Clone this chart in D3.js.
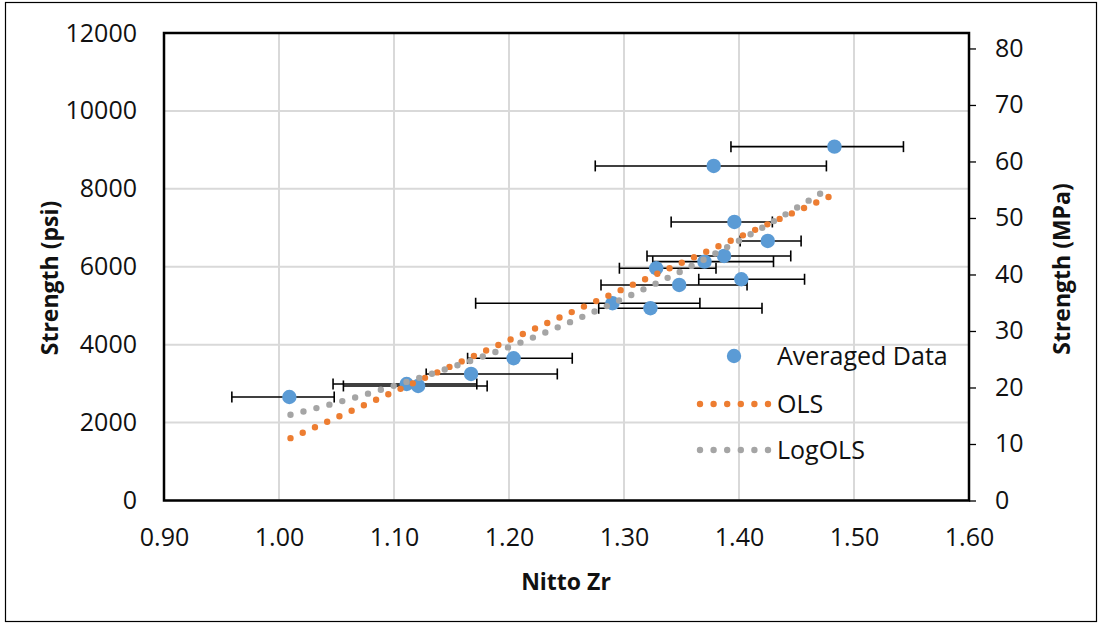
<!DOCTYPE html>
<html>
<head>
<meta charset="utf-8">
<script src="https://cdn.jsdelivr.net/npm/d3@7"></script>
<style>
  html, body { margin: 0; padding: 0; background: #fff; }
  svg { display: block; }
  text { font-family: "Open Sans", "Liberation Sans", sans-serif; fill: #111; }
</style>
</head>
<body>
<svg id="chart" width="1102" height="625"></svg>
<script>
// Averaged strength measurements with horizontal (Nitto Zr) error bars
const xAvg   = [1.009, 1.111, 1.121, 1.167, 1.204, 1.290, 1.323, 1.348, 1.402, 1.328, 1.370, 1.387, 1.425, 1.396, 1.378, 1.483];
const psiAvg = [2657, 2991, 2940, 3248, 3651, 5063, 4934, 5533, 5679, 5962, 6131, 6277, 6662, 7150, 8588, 9083];
const xLow   = [0.959, 1.047, 1.056, 1.128, 1.164, 1.171, 1.278, 1.280, 1.365, 1.296, 1.325, 1.320, 1.401, 1.341, 1.275, 1.393];
const xHigh  = [1.048, 1.172, 1.181, 1.242, 1.255, 1.366, 1.420, 1.407, 1.457, 1.380, 1.430, 1.445, 1.454, 1.429, 1.476, 1.543];

// Fitted trend lines
const olsX = [1.01, 1.48];
const olsPsi = [1600, 7820];
const logOlsX = [1.01, 1.05, 1.10, 1.15, 1.20, 1.25, 1.30, 1.35, 1.40, 1.45, 1.48];
const logOlsPsi = [2200, 2510, 2945, 3420, 3940, 4540, 5190, 5890, 6670, 7510, 8045];

// Axis ticks
const xTicks = [0.90, 1.00, 1.10, 1.20, 1.30, 1.40, 1.50, 1.60];
const psiTicks = [0, 2000, 4000, 6000, 8000, 10000, 12000];
const mpaTicks = [0, 10, 20, 30, 40, 50, 60, 70, 80];
const PSI_TO_MPA = 0.00689476;

const legendItems = ["Averaged Data", "OLS", "LogOLS"];

const colors = { avg: "#5b9bd5", ols: "#ed7d31", log: "#a5a5a5", grid: "#d9d9d9" };

const svg = d3.select("#chart");
const plot = { left: 164, right: 969, top: 33, bottom: 500.5 };

const x = d3.scaleLinear().domain([0.9, 1.6]).range([plot.left, plot.right]);
const y = d3.scaleLinear().domain([0, 12000]).range([plot.bottom, plot.top]);
const yR = d3.scaleLinear().domain([0, 12000 * PSI_TO_MPA]).range([plot.bottom, plot.top]);

// Outer chart frame
svg.append("rect")
  .attr("x", 5.5).attr("y", 2.5).attr("width", 1091).attr("height", 619)
  .attr("fill", "none").attr("stroke", "#000").attr("stroke-width", 1.2);

// Gridlines
svg.append("g").selectAll("line").data(psiTicks).join("line")
  .attr("x1", plot.left).attr("x2", plot.right)
  .attr("y1", d => y(d)).attr("y2", d => y(d))
  .attr("stroke", colors.grid).attr("stroke-width", 2);
svg.append("g").selectAll("line").data(xTicks).join("line")
  .attr("x1", d => x(d)).attr("x2", d => x(d))
  .attr("y1", plot.top).attr("y2", plot.bottom)
  .attr("stroke", colors.grid).attr("stroke-width", 2);

// Left axis (psi)
const axL = svg.append("g").attr("transform", `translate(${plot.left - 27},0)`)
  .call(d3.axisLeft(y).tickValues(psiTicks).tickSize(0).tickPadding(0).tickFormat(d3.format("d")));
axL.select(".domain").remove();
axL.selectAll("text").attr("font-size", 25).attr("font-family", "Open Sans").attr("fill", "#111");

// Bottom axis
const axB = svg.append("g").attr("transform", `translate(0,${plot.bottom})`)
  .call(d3.axisBottom(x).tickValues(xTicks).tickSize(0).tickPadding(28).tickFormat(d3.format(".2f")));
axB.select(".domain").remove();
axB.selectAll("text").attr("font-size", 25).attr("font-family", "Open Sans").attr("fill", "#111");

// Right axis (MPa)
const axR = svg.append("g").attr("transform", `translate(${plot.right},0)`)
  .call(d3.axisRight(yR).tickValues(mpaTicks).tickSize(7).tickPadding(19).tickFormat(d3.format("d")));
axR.select(".domain").remove();
axR.selectAll("line").attr("stroke", "#000").attr("stroke-width", 1.3);
axR.selectAll("text").attr("font-size", 25).attr("font-family", "Open Sans").attr("fill", "#111");

// Plot border
svg.append("rect")
  .attr("x", plot.left).attr("y", plot.top)
  .attr("width", plot.right - plot.left).attr("height", plot.bottom - plot.top)
  .attr("fill", "none").attr("stroke", "#000").attr("stroke-width", 2.5);

// Error bars
const idx = d3.range(xAvg.length);
const eb = svg.append("g").attr("stroke", "#000").attr("stroke-width", 1.6);
eb.selectAll(".bar").data(idx).join("line")
  .attr("x1", i => x(xLow[i])).attr("x2", i => x(xHigh[i]))
  .attr("y1", i => y(psiAvg[i])).attr("y2", i => y(psiAvg[i]));
eb.selectAll(".capL").data(idx).join("line")
  .attr("x1", i => x(xLow[i])).attr("x2", i => x(xLow[i]))
  .attr("y1", i => y(psiAvg[i]) - 5.5).attr("y2", i => y(psiAvg[i]) + 5.5);
eb.selectAll(".capH").data(idx).join("line")
  .attr("x1", i => x(xHigh[i])).attr("x2", i => x(xHigh[i]))
  .attr("y1", i => y(psiAvg[i]) - 5.5).attr("y2", i => y(psiAvg[i]) + 5.5);

// Averaged data markers
svg.append("g").selectAll("circle").data(idx).join("circle")
  .attr("cx", i => x(xAvg[i])).attr("cy", i => y(psiAvg[i])).attr("r", 7.2)
  .attr("fill", colors.avg);

// Dotted trend lines
const dotStyle = sel => sel.attr("fill", "none").attr("stroke-width", 6.4)
  .attr("stroke-linecap", "round").attr("stroke-dasharray", "0 13.4");

const lineGen = d3.line().x(d => x(d[0])).y(d => y(d[1]));
svg.append("path").datum(d3.zip(olsX, olsPsi))
  .attr("d", lineGen).attr("stroke", colors.ols).call(dotStyle);
svg.append("path").datum(d3.zip(logOlsX, logOlsPsi))
  .attr("d", lineGen.curve(d3.curveMonotoneX)).attr("stroke", colors.log).call(dotStyle);

// Legend
const lg = svg.append("g");
const legY = [356, 404, 450];
lg.append("circle").attr("cx", 734).attr("cy", legY[0]).attr("r", 7.2).attr("fill", colors.avg);
lg.append("line").attr("x1", 700).attr("x2", 768).attr("y1", legY[1]).attr("y2", legY[1])
  .attr("stroke", colors.ols).call(dotStyle).attr("stroke-dasharray", "0 13.6");
lg.append("line").attr("x1", 700).attr("x2", 768).attr("y1", legY[2]).attr("y2", legY[2])
  .attr("stroke", colors.log).call(dotStyle).attr("stroke-dasharray", "0 13.6");
lg.selectAll("text").data(legendItems).join("text")
  .attr("x", 777).attr("y", (d, i) => legY[i]).attr("dy", "0.35em")
  .attr("font-size", 25).text(d => d);

// Axis titles
svg.append("text").attr("x", 566).attr("y", 590).attr("text-anchor", "middle")
  .attr("font-size", 23).attr("font-weight", "bold").text("Nitto Zr");
svg.append("text").attr("transform", "translate(58,278) rotate(-90)").attr("text-anchor", "middle")
  .attr("font-size", 23).attr("font-weight", "bold").text("Strength (psi)");
svg.append("text").attr("transform", "translate(1070,269) rotate(-90)").attr("text-anchor", "middle")
  .attr("font-size", 23).attr("font-weight", "bold").text("Strength (MPa)");
</script>
</body>
</html>
